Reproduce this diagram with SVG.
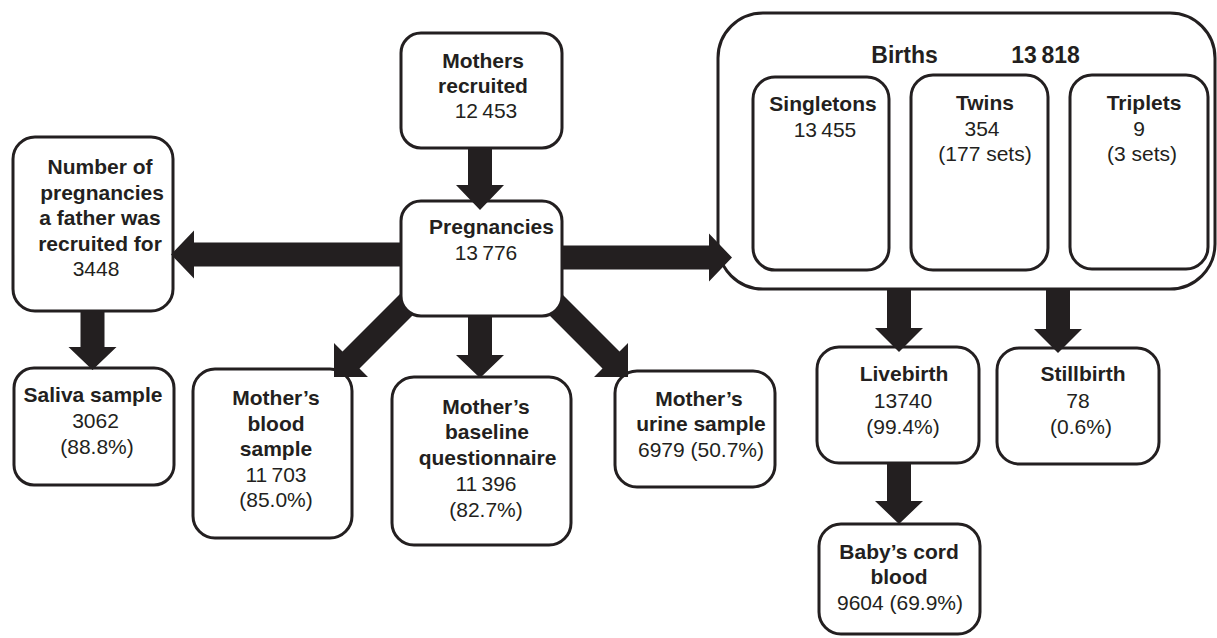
<svg xmlns="http://www.w3.org/2000/svg" width="1217" height="638" viewBox="0 0 1217 638">
<style>
.box{fill:#fff;stroke:#231f20;stroke-width:3}
.b{font-family:"Liberation Sans",Arial,Helvetica,sans-serif;font-size:21px;font-weight:bold;fill:#231f20;text-anchor:middle}
.r{font-family:"Liberation Sans",Arial,Helvetica,sans-serif;font-size:21px;font-weight:normal;fill:#231f20;text-anchor:middle}
.t{font-size:23px}
.arr{fill:#231f20;stroke:none}
</style>
<rect width="1217" height="638" fill="#fff"/>
<g id="nodes">
<g id="births">
<rect class="box" x="718" y="13" width="497" height="276" rx="45"/>
<text class="b t" x="904.5" y="62.5">Births</text>
<text class="b t" x="1045.5" y="62.5">13&#8201;818</text>
</g>
<g id="singletons">
<rect class="box" x="753" y="77" width="136" height="193" rx="22"/>
<text class="b" x="823" y="111">Singletons</text>
<text class="r" x="825" y="137">13&#8201;455</text>
</g>
<g id="twins">
<rect class="box" x="911" y="75" width="137" height="195" rx="22"/>
<text class="b" x="985" y="109.5">Twins</text>
<text class="r" x="982" y="135.5">354</text>
<text class="r" x="985" y="161">(177 sets)</text>
</g>
<g id="triplets">
<rect class="box" x="1070" y="75" width="138" height="194" rx="22"/>
<text class="b" x="1144" y="109.5">Triplets</text>
<text class="r" x="1139" y="135.5">9</text>
<text class="r" x="1142" y="161">(3 sets)</text>
</g>
<g id="mothers">
<rect class="box" x="401" y="33" width="161" height="115" rx="20"/>
<text class="b" x="483" y="68">Mothers</text>
<text class="b" x="483" y="92.5">recruited</text>
<text class="r" x="486" y="118">12&#8201;453</text>
</g>
<g id="pregnancies">
<rect class="box" x="401" y="201" width="161" height="115" rx="20"/>
<text class="b" x="491.5" y="234">Pregnancies</text>
<text class="r" x="486" y="260">13&#8201;776</text>
</g>
<g id="fathers">
<rect class="box" x="13" y="137" width="160" height="174" rx="22"/>
<text class="b" x="100" y="174">Number of</text>
<text class="b" x="102" y="199.5">pregnancies</text>
<text class="b" x="100" y="225">a father was</text>
<text class="b" x="100" y="250.5">recruited for</text>
<text class="r" x="96" y="276">3448</text>
</g>
<g id="saliva">
<rect class="box" x="14" y="368" width="160" height="117" rx="20"/>
<text class="b" x="93" y="402">Saliva sample</text>
<text class="r" x="95.5" y="428">3062</text>
<text class="r" x="97" y="454">(88.8%)</text>
</g>
<g id="blood">
<rect class="box" x="193" y="369" width="159" height="169" rx="22"/>
<text class="b" x="276" y="405">Mother’s</text>
<text class="b" x="276" y="430.6">blood</text>
<text class="b" x="276" y="456.2">sample</text>
<text class="r" x="276" y="481.8">11&#8201;703</text>
<text class="r" x="276" y="507.4">(85.0%)</text>
</g>
<g id="questionnaire">
<rect class="box" x="392" y="377" width="179" height="168" rx="22"/>
<text class="b" x="486" y="413.5">Mother’s</text>
<text class="b" x="487" y="439.3">baseline</text>
<text class="b" x="487.5" y="465.1">questionnaire</text>
<text class="r" x="486" y="490.9">11&#8201;396</text>
<text class="r" x="486" y="516.7">(82.7%)</text>
</g>
<g id="urine">
<rect class="box" x="615" y="371" width="160" height="116" rx="22"/>
<text class="b" x="699" y="406">Mother’s</text>
<text class="b" x="701" y="431">urine sample</text>
<text class="r" x="701" y="457">6979 (50.7%)</text>
</g>
<g id="livebirth">
<rect class="box" x="817" y="347" width="162" height="116" rx="22"/>
<text class="b" x="904" y="381">Livebirth</text>
<text class="r" x="903" y="407.5">13740</text>
<text class="r" x="903" y="434">(99.4%)</text>
</g>
<g id="stillbirth">
<rect class="box" x="997" y="348" width="162" height="116" rx="22"/>
<text class="b" x="1083" y="381">Stillbirth</text>
<text class="r" x="1078" y="407.5">78</text>
<text class="r" x="1081" y="434">(0.6%)</text>
</g>
<g id="cordblood">
<rect class="box" x="819" y="524" width="161" height="110" rx="22"/>
<text class="b" x="899" y="558.5">Baby’s cord</text>
<text class="b" x="899" y="584">blood</text>
<text class="r" x="900" y="610">9604 (69.9%)</text>
</g>
</g>
<g id="connectors">
<polygon class="arr" points="468,148 468,185 456,185 480,210 504,185 492,185 492,148"/>
<polygon class="arr" points="401,242.5 194,242.5 194,230.5 171,254.5 194,278.5 194,266.5 401,266.5"/>
<polygon class="arr" points="562,245.5 709,245.5 709,233.5 732,257.5 709,281.5 709,269.5 562,269.5"/>
<polygon class="arr" points="80.5,311 80.5,347 68.5,347 92.5,370 116.5,347 104.5,347 104.5,311"/>
<polygon class="arr" points="468,316 468,355 456,355 480,378 504,355 492,355 492,316"/>
<polygon class="arr" points="401,293 342.5,351.5 334,343 334,377 368,377 359.5,368.5 413.5,314.5 411,313.3 403.7,306 401,296"/>
<polygon class="arr" points="562,294 619.5,351.5 628,343 628,377 594,377 602.5,368.5 548.8,314.8 552,313.3 559.3,306 562,296"/>
<polygon class="arr" points="887,289 887,328 875,328 899,352 923,328 911,328 911,289"/>
<polygon class="arr" points="1046,289 1046,329 1034,329 1058,353 1082,329 1070,329 1070,289"/>
<polygon class="arr" points="887,463 887,501 875,501 899,524 923,501 911,501 911,463"/>
</g>
</svg>
